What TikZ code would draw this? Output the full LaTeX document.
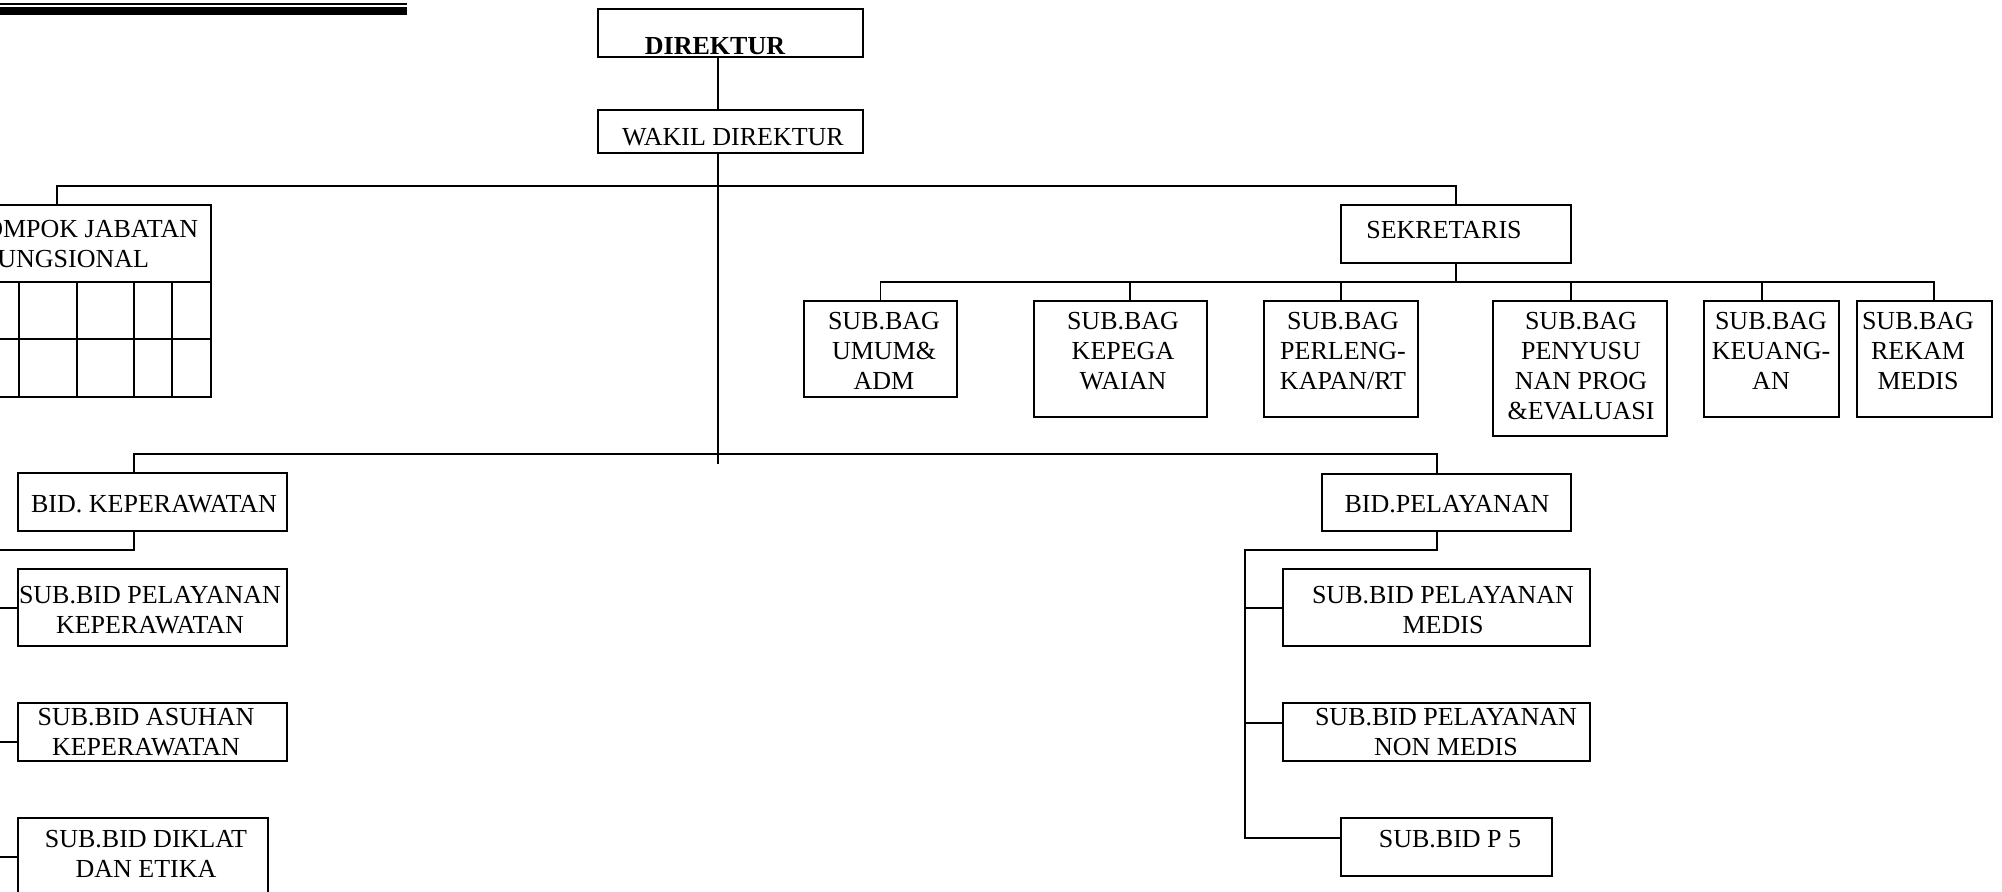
\documentclass[tikz,border=0pt]{standalone}
\usepackage{fontspec}
\setmainfont{Liberation Serif}
\usetikzlibrary{fit,calc}
\tikzset{
  box/.style={draw, line width=0.7pt, inner sep=0pt},
  txt/.style={inner sep=0pt, align=center, anchor=north, font=\fontsize{13}{15}\selectfont},
  conn/.style={draw, line width=0.7pt},
}
\newcommand\obox[5]{\node[box, fit={(#2,#3) (#4,#5)}] (#1) {};}
\begin{document}
\begin{tikzpicture}[x=0.5pt, y=-0.5pt]
\useasboundingbox (0,0) rectangle (2002,892);
\clip (0,0) rectangle (2002,892);
% top rule
\fill (0,3) rectangle (407,5);
\fill (0,7.5) rectangle (407,15);
% boxes
\obox{direktur}{598}{9}{863}{57}
\obox{wakil}{598}{110}{863}{153}
\obox{kel}{-77}{205}{211}{397}
\obox{sek}{1341}{205}{1571}{263}
\obox{umum}{804}{301}{957}{397}
\obox{kepega}{1034}{301}{1207}{417}
\obox{perleng}{1264}{301}{1418}{417}
\obox{penyusu}{1493}{301}{1667}{436}
\obox{keuangan}{1704}{301}{1839}{417}
\obox{rekam}{1857}{301}{1992}{417}
\obox{bidkep}{18}{473}{287}{531}
\obox{sbk1}{18}{569}{287}{646}
\obox{sbk2}{18}{703}{287}{761}
\obox{sbk3}{18}{818}{268}{896}
\obox{bidpel}{1322}{474}{1571}{531}
\obox{medis}{1283}{569}{1590}{646}
\obox{nonmedis}{1283}{703}{1590}{761}
\obox{pfive}{1341}{818}{1552}{876}
% kelompok table grid
\draw[line width=0.7pt] (-77,282) -- (211,282) (-77,339) -- (211,339);
\foreach \cx in {19,77,134,172} \draw[line width=0.7pt] (\cx,282) -- (\cx,397);
% texts
\node[txt, font=\fontsize{13}{15}\selectfont\bfseries] (t-direktur) at (715,37) {DIREKTUR};
\node[txt] (t-wakil) at (733,128) {WAKIL DIREKTUR};
\node[txt] (t-kel) at (66,220) {KELOMPOK JABATAN\\FUNGSIONAL};
\node[txt] (t-sek) at (1444,221) {SEKRETARIS};
\node[txt] (t-umum) at (884,312) {SUB.BAG\\UMUM\&\\ADM};
\node[txt] (t-kepega) at (1123,312) {SUB.BAG\\KEPEGA\\WAIAN};
\node[txt] (t-perleng) at (1343,312) {SUB.BAG\\PERLENG-\\KAPAN/RT};
\node[txt] (t-penyusu) at (1581,312) {SUB.BAG\\PENYUSU\\NAN PROG\\\&EVALUASI};
\node[txt] (t-keuangan) at (1771,312) {SUB.BAG\\KEUANG-\\AN};
\node[txt] (t-rekam) at (1918,312) {SUB.BAG\\REKAM\\MEDIS};
\node[txt] (t-bidkep) at (154,495) {BID. KEPERAWATAN};
\node[txt] (t-bidpel) at (1447,495) {BID.PELAYANAN};
\node[txt] (t-sbk1) at (150,586) {SUB.BID PELAYANAN\\KEPERAWATAN};
\node[txt] (t-sbk2) at (146,708) {SUB.BID ASUHAN\\KEPERAWATAN};
\node[txt] (t-sbk3) at (146,830) {SUB.BID DIKLAT\\DAN ETIKA};
\node[txt] (t-medis) at (1443,586) {SUB.BID PELAYANAN\\MEDIS};
\node[txt] (t-nonmedis) at (1446,708) {SUB.BID PELAYANAN\\NON MEDIS};
\node[txt] (t-pfive) at (1450,830) {SUB.BID P 5};
% junction coordinates
\coordinate (sx) at (718,0);
\coordinate (spineend) at (718,464);
\coordinate (bus1) at (0,186);
\coordinate (bus2) at (0,282);
\coordinate (bus3) at (0,454);
\coordinate (kd) at (57,0);
\coordinate (lk) at (-20,550);
\coordinate (lp) at (1245,550);
% connectors
\draw[conn] (direktur.south -| sx) -- (wakil.north -| sx);
\draw[conn] (wakil.south -| sx) -- (spineend);
\draw[conn] (kel.north -| kd) -- (kd |- bus1) -- (sek.north |- bus1) -- (sek.north);
\draw[conn] (sek.south) -- (sek.south |- bus2);
\draw[conn] (umum.north) -- (umum.north |- bus2) -- ($(rekam.north |- bus2)+(9.5,0)$) -- ($(rekam.north)+(9.5,0)$);
\draw[conn] ($(kepega.north)+(9.5,0)$) -- ($(kepega.north |- bus2)+(9.5,0)$);
\draw[conn] (perleng.north) -- (perleng.north |- bus2);
\draw[conn] ($(penyusu.north)+(-9,0)$) -- ($(penyusu.north |- bus2)+(-9,0)$);
\draw[conn] ($(keuangan.north)+(-9.5,0)$) -- ($(keuangan.north |- bus2)+(-9.5,0)$);
\draw[conn] ($(bidkep.north)+(-18.5,0)$) -- ($(bidkep.north |- bus3)+(-18.5,0)$) -- ($(bidpel.north |- bus3)+(-9.5,0)$) -- ($(bidpel.north)+(-9.5,0)$);
\draw[conn] ($(bidkep.south)+(-18.5,0)$) |- (lk) |- (sbk3.west);
\draw[conn] (lk) |- ($(sbk1.west)+(0,0.5)$);
\draw[conn] (lk) |- ($(sbk2.west)+(0,10)$);
\draw[conn] ($(bidpel.south)+(-9.5,0)$) |- (lp) |- ($(pfive.west)+(0,-9)$);
\draw[conn] (lp) |- ($(medis.west)+(0,0.5)$);
\draw[conn] (lp) |- ($(nonmedis.west)+(0,-9)$);
\end{tikzpicture}
\end{document}
